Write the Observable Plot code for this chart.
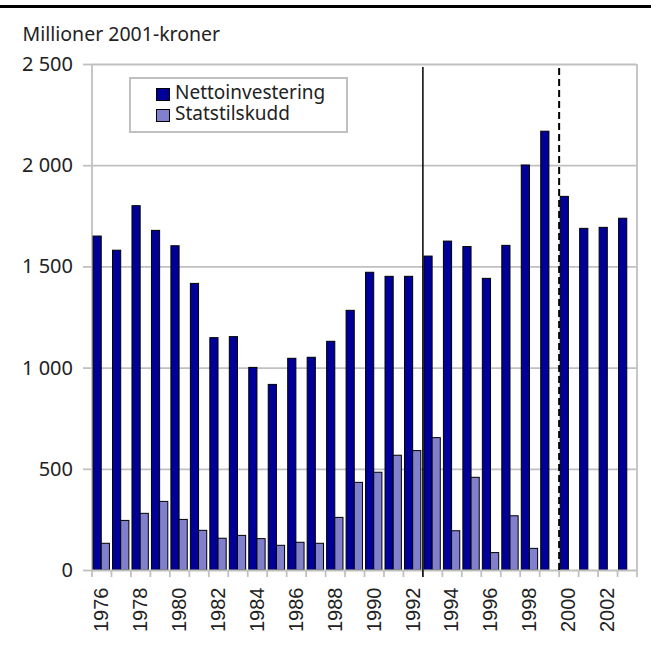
<!DOCTYPE html>
<html><head><meta charset="utf-8">
<script src="https://cdn.jsdelivr.net/npm/d3@7"></script>
<script src="https://cdn.jsdelivr.net/npm/@observablehq/plot@0.6"></script>
<style>
body{margin:0;background:#fff;}
#wrap{position:relative;width:651px;height:651px;overflow:hidden;font-family:"Noto Sans",sans-serif;color:#222;}
#chart{position:absolute;left:0;top:0;}
#topline{position:absolute;left:0;top:5px;width:651px;height:3px;background:#000;}
#title{position:absolute;left:22.5px;top:24px;font-size:19.5px;line-height:20px;white-space:nowrap;}
#legend{position:absolute;left:129px;top:77px;width:219px;height:56px;border:2px solid #c0c0c0;background:#fff;box-sizing:border-box;}
.row{position:absolute;left:25px;font-size:19px;line-height:20px;white-space:nowrap;}
.sw{display:inline-block;box-sizing:border-box;width:14px;height:13px;border:1px solid #000;margin-right:5px;vertical-align:-2px;}
</style></head>
<body>
<div id="wrap">
  <div id="chart"></div>
  <div id="topline"></div>
  <div id="title">Millioner 2001-kroner</div>
  <div id="legend"></div>
</div>
<script>
const years = [1976,1977,1978,1979,1980,1981,1982,1983,1984,1985,1986,1987,1988,1989,1990,1991,1992,1993,1994,1995,1996,1997,1998,1999,2000,2001,2002,2003];
const nettoinvestering = [1650,1580,1800,1678,1602,1416,1148,1153,1001,917,1046,1051,1130,1283,1471,1451,1451,1551,1625,1598,1441,1604,2001,2168,1846,1688,1693,1738];
const statstilskudd = [132,245,280,339,250,196,157,171,155,122,137,132,260,433,483,567,590,654,194,458,86,268,107,null,null,null,null,null];
const seriesNames = ["Nettoinvestering","Statstilskudd"];
const seriesColors = ["#000099","#8080cc"];
const yTicks = [0,500,1000,1500,2000,2500];
const xLabelYears = [1976,1978,1980,1982,1984,1986,1988,1990,1992,1994,1996,1998,2000,2002];
const solidDivider = [1992.5];
const dashedDivider = [1999.5];

const rows = years.map((year,i)=>({year, netto: nettoinvestering[i], stats: statstilskudd[i]}));
const boundaries = years.map(y=>y-0.5).concat([years[years.length-1]+0.5]);
const xDomain = [boundaries[0], boundaries[boundaries.length-1]];
const fmt = d => d3.format(",")(d).replace(/,/g," ");
const grid = "#c0c0c0";

const chart = Plot.plot({
  width: 651, height: 651,
  marginLeft: 91.5, marginRight: 14.5, marginTop: 64, marginBottom: 81,
  style: {fontFamily: "'Noto Sans', sans-serif", fontSize: "20px", color: "#222", background: "transparent"},
  x: {type: "linear", domain: xDomain, axis: null},
  y: {domain: [0, 2500], axis: null},
  marks: [
    Plot.gridY(yTicks.slice(1), {stroke: grid, strokeOpacity: 1, strokeWidth: 1.8}),
    Plot.ruleX([xDomain[0]], {stroke: grid, strokeWidth: 1.8}),
    Plot.ruleX([xDomain[1]], {stroke: grid, strokeWidth: 1.8}),
    Plot.rectY(rows, {x1: d => d.year - 0.42, x2: d => d.year, y: "netto", fill: seriesColors[0], stroke: "#000", strokeWidth: 1}),
    Plot.rectY(rows.filter(d => d.stats != null), {x1: d => d.year, x2: d => d.year + 0.42, y: "stats", fill: seriesColors[1], stroke: "#000", strokeWidth: 1}),
    Plot.ruleY([0], {stroke: grid, strokeWidth: 1.8}),
    Plot.axisY(yTicks, {tickSize: 8.5, tickPadding: 10.5, stroke: grid, strokeWidth: 1.8, fill: "#222", fontSize: 20, tickFormat: fmt, label: null}),
    Plot.axisX(boundaries, {tickSize: 7, stroke: grid, strokeWidth: 1.8, tickFormat: () => "", label: null}),
    Plot.axisX(xLabelYears, {tickSize: 0, tickPadding: 17, tickRotate: -90, fontSize: 20, fontFamily: "'Liberation Sans', Arial, sans-serif", fill: "#222", tickFormat: d => String(d), label: null}),
    Plot.ruleX(solidDivider, {y1: -35, y2: 2485, stroke: "#000", strokeWidth: 1.5}),
    Plot.ruleX(dashedDivider, {y1: 0, y2: 2500, stroke: "#000", strokeWidth: 2, strokeDasharray: "7,4"})
  ]
});
document.getElementById("chart").appendChild(chart);

const legend = document.getElementById("legend");
seriesNames.forEach((name, i) => {
  const r = document.createElement("div");
  r.className = "row";
  r.style.top = (3 + i * 20.5) + "px";
  const sw = document.createElement("span");
  sw.className = "sw";
  sw.style.background = seriesColors[i];
  r.appendChild(sw);
  r.appendChild(document.createTextNode(name));
  legend.appendChild(r);
});
</script>
</body></html>
